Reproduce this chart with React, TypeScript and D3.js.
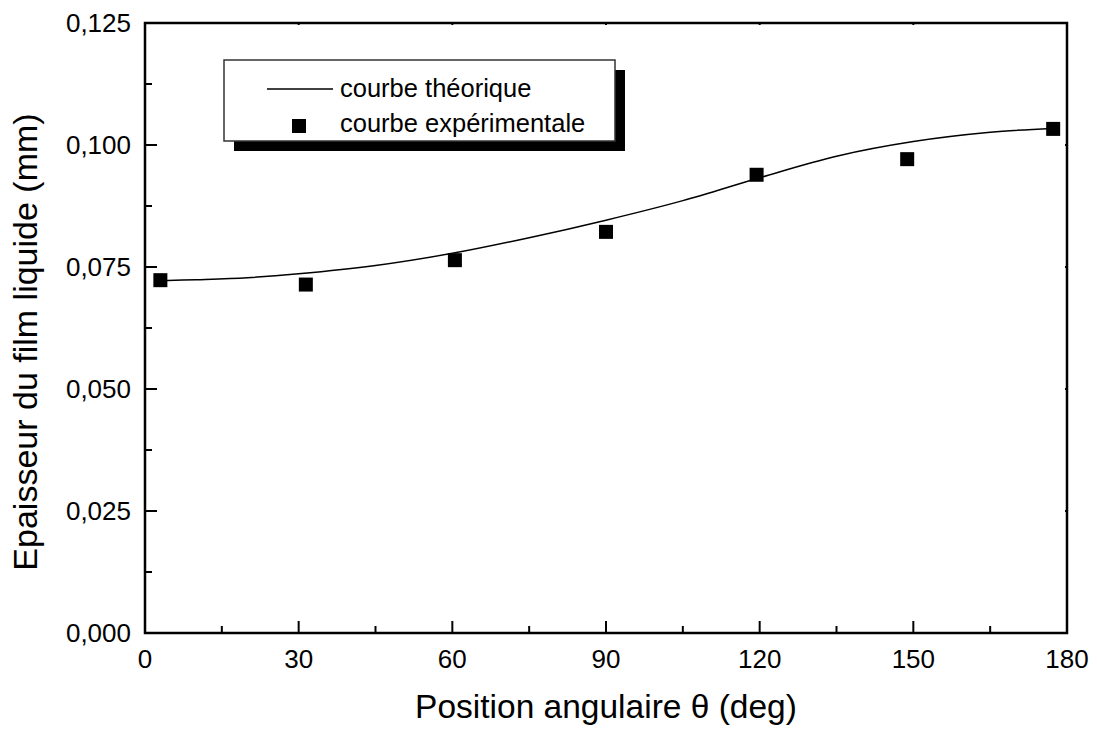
import React from "react";
import * as d3 from "d3";

const W = 1097;
const H = 729;

// Experimental data (angle in deg, thickness in mm)
const expAngles = [3, 31.4, 60.5, 90, 119.4, 148.8, 177.3];
const expValues = [0.0723, 0.0714, 0.0764, 0.0822, 0.0939, 0.0971, 0.1033];

// Theoretical curve
const theoAngles = [3, 10, 20, 30, 45, 60, 75, 90, 105, 120, 135, 150, 165, 177];
const theoValues = [0.0722, 0.0724, 0.0728, 0.0736, 0.0753, 0.0778, 0.081, 0.0846, 0.0886, 0.0933, 0.0977, 0.1007, 0.1026, 0.1034];

const xTicks = [0, 30, 60, 90, 120, 150, 180];
const xMinor = [15, 45, 75, 105, 135, 165];
const yTicks = [0, 0.025, 0.05, 0.075, 0.1, 0.125];
const yMinor = [0.0125, 0.0375, 0.0625, 0.0875, 0.1125];

const legendLabels = ["courbe théorique", "courbe expérimentale"];
const xTitle = "Position angulaire θ (deg)";
const yTitle = "Epaisseur du film liquide (mm)";

const FONT = "'Liberation Sans', Arial, Helvetica, sans-serif";

export default function App() {
  const left = 145, right = 1067, top = 23, bottom = 633;
  const x = d3.scaleLinear().domain([0, 180]).range([left, right]);
  const y = d3.scaleLinear().domain([0, 0.125]).range([bottom, top]);
  const fmt = (v: number) => v.toFixed(3).replace(".", ",");

  const line = d3
    .line<number>()
    .x((_, i) => x(theoAngles[i]))
    .y((d) => y(d))
    .curve(d3.curveCatmullRom.alpha(0.5));

  const ms = 14;
  const lx = 224, ly = 60, lw = 391, lh = 81;

  return (
    <svg
      width={W}
      height={H}
      style={{ position: "absolute", left: 0, top: 0, background: "#fff" }}
      fontFamily={FONT}
    >
      <rect x={0} y={0} width={W} height={H} fill="#fff" />
      {/* frame */}
      <rect x={left} y={top} width={right - left} height={bottom - top} fill="none" stroke="#000" strokeWidth={2.5} />
      {/* x ticks */}
      {xTicks.map((t) => (
        <g key={"xt" + t}>
          <line x1={x(t)} x2={x(t)} y1={bottom} y2={bottom - 12} stroke="#000" strokeWidth={2} />
          <line x1={x(t)} x2={x(t)} y1={top} y2={top + 2} stroke="#000" strokeWidth={2} />
          <text x={x(t)} y={668} textAnchor="middle" fontSize={26}>
            {t}
          </text>
        </g>
      ))}
      {xMinor.map((t) => (
        <line key={"xm" + t} x1={x(t)} x2={x(t)} y1={bottom} y2={bottom - 7} stroke="#000" strokeWidth={2} />
      ))}
      {/* y ticks */}
      {yTicks.map((t) => (
        <g key={"yt" + t}>
          <line x1={left} x2={left + 12} y1={y(t)} y2={y(t)} stroke="#000" strokeWidth={2} />
          <line x1={right} x2={right - 2} y1={y(t)} y2={y(t)} stroke="#000" strokeWidth={2} />
          <text x={131} y={y(t)} dy="0.36em" textAnchor="end" fontSize={26}>
            {fmt(t)}
          </text>
        </g>
      ))}
      {yMinor.map((t) => (
        <line key={"ym" + t} x1={left} x2={left + 7} y1={y(t)} y2={y(t)} stroke="#000" strokeWidth={2} />
      ))}
      {/* theoretical curve */}
      <path d={line(theoValues) || ""} fill="none" stroke="#000" strokeWidth={1.5} />
      {/* experimental points */}
      {expValues.map((v, i) => (
        <rect key={"p" + i} x={x(expAngles[i]) - ms / 2} y={y(v) - ms / 2} width={ms} height={ms} fill="#000" />
      ))}
      {/* legend */}
      <rect x={lx + 10} y={ly + 10} width={lw} height={lh} fill="#000" />
      <rect x={lx} y={ly} width={lw} height={lh} fill="#fff" stroke="#333" strokeWidth={1.5} />
      <line x1={267} x2={333} y1={89} y2={89} stroke="#000" strokeWidth={1.5} />
      <text x={340} y={97} fontSize={25.5}>
        {legendLabels[0]}
      </text>
      <rect x={299 - ms / 2} y={126 - ms / 2} width={ms} height={ms} fill="#000" />
      <text x={340} y={132} fontSize={25.5}>
        {legendLabels[1]}
      </text>
      {/* axis titles */}
      <text x={(left + right) / 2} y={718} textAnchor="middle" fontSize={33.5}>
        {xTitle}
      </text>
      <text
        transform={`translate(37, 342) rotate(-90)`}
        textAnchor="middle"
        fontSize={34}
      >
        {yTitle}
      </text>
    </svg>
  );
}
